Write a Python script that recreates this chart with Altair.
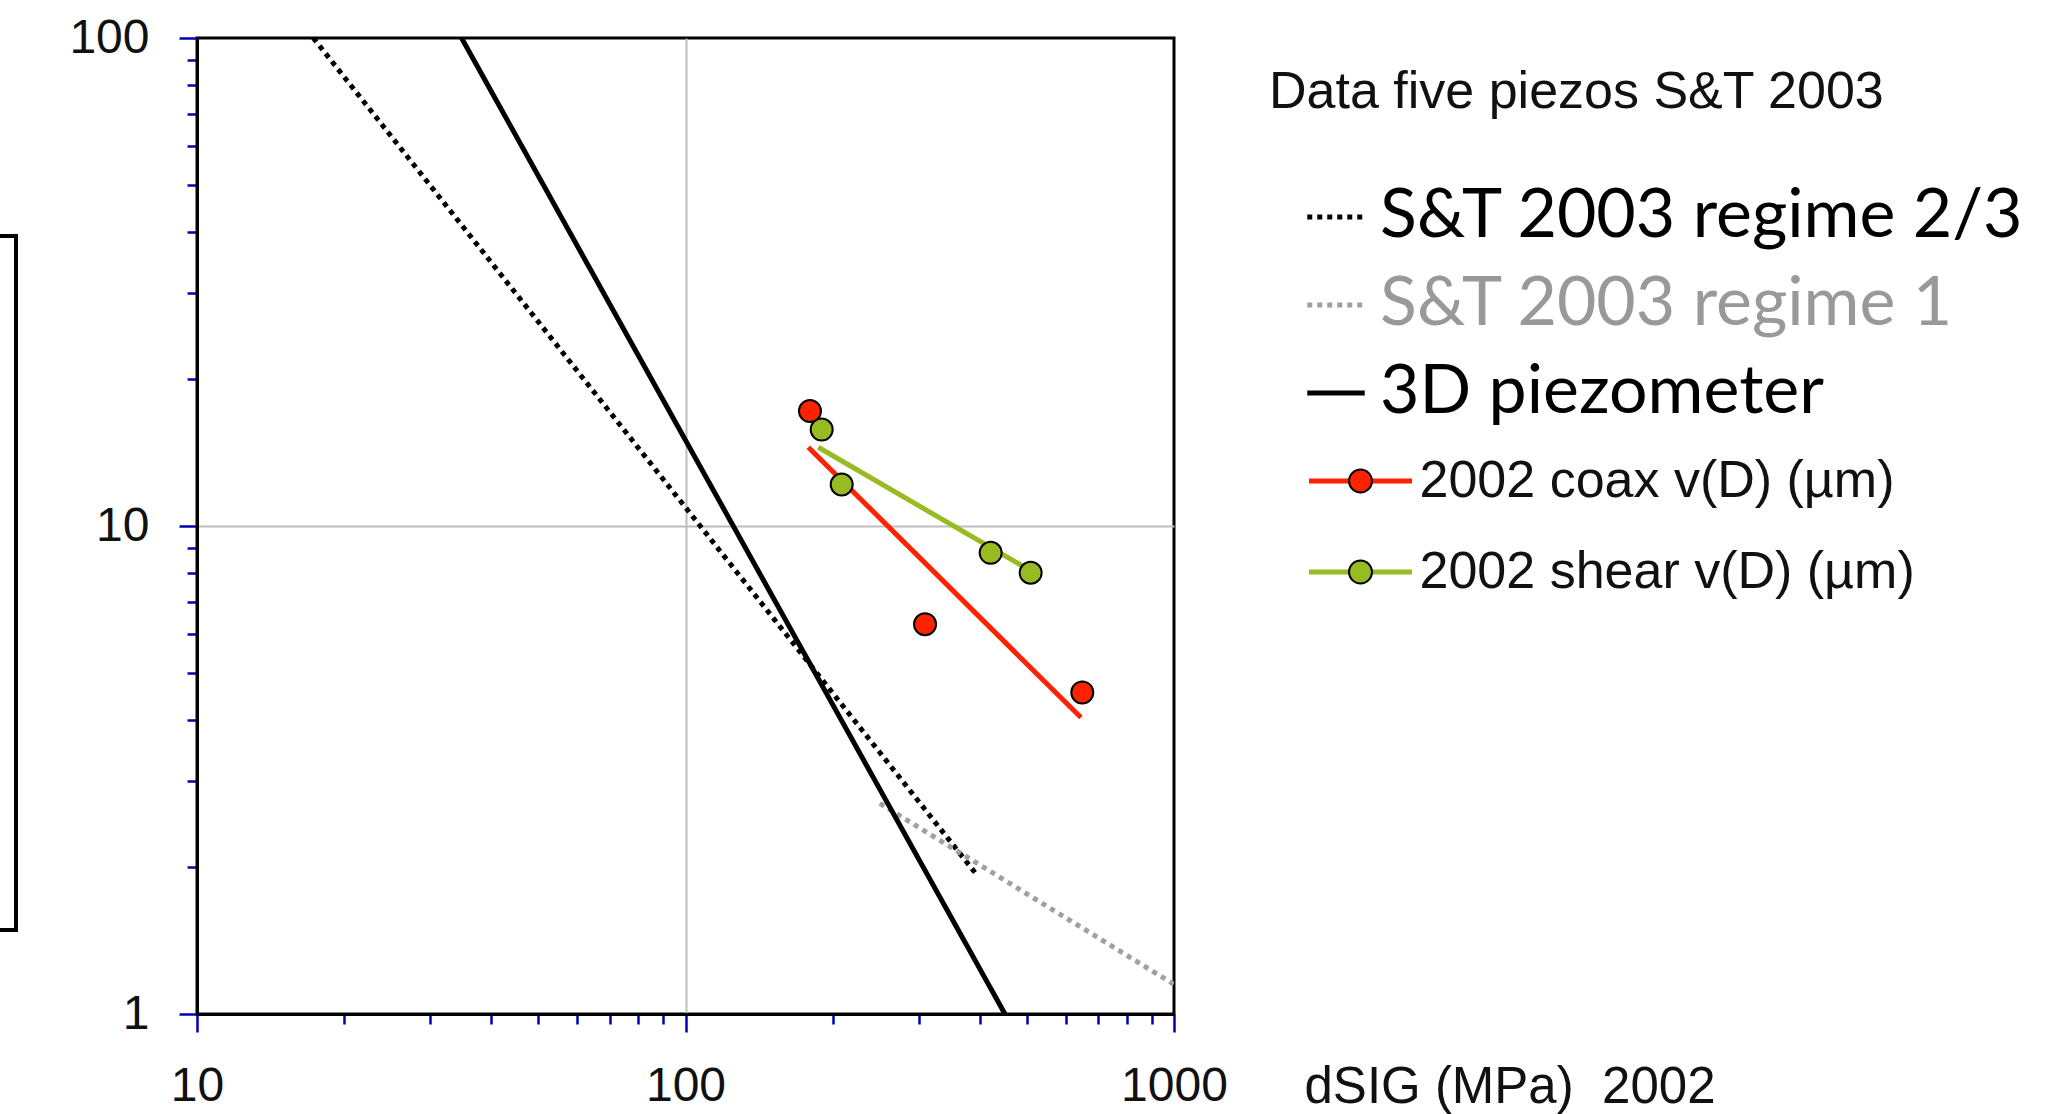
import altair as alt
import pandas as pd

# ---- reference piezometer curves (power laws: straight segments in log-log) ----
ref_curve = ["S&T 2003 regime 2/3", "S&T 2003 regime 2/3",
             "S&T 2003 regime 1", "S&T 2003 regime 1",
             "3D piezometer", "3D piezometer"]
ref_dsig = [17.3, 394.5, 250.0, 1000.0, 34.8, 450.8]
ref_d = [100.0, 1.93, 2.70, 1.15, 100.0, 1.0]

# ---- 2002 regression lines ----
fit_series = ["2002 coax v(D) (µm)", "2002 coax v(D) (µm)",
              "2002 shear v(D) (µm)", "2002 shear v(D) (µm)"]
fit_dsig = [178.4, 645.0, 187.0, 503.0]
fit_d = [14.5, 4.05, 14.5, 8.15]

# ---- 2002 measurements ----
pt_series = ["2002 coax v(D) (µm)"] * 3 + ["2002 shear v(D) (µm)"] * 4
pt_dsig = [179.8, 309.3, 649.0, 190.0, 208.8, 421.4, 508.8]
pt_d = [17.2, 6.29, 4.56, 15.76, 12.16, 8.81, 8.02]

curve_order = ["S&T 2003 regime 2/3", "S&T 2003 regime 1", "3D piezometer"]
curve_colors = ["#000000", "#A0A0A0", "#000000"]
curve_dashes = [[5, 5], [5, 5], [1, 0]]
series_colors = ["#FF2200", "#99BB22"]

x_ticks = [10, 20, 30, 40, 50, 60, 70, 80, 90,
           100, 200, 300, 400, 500, 600, 700, 800, 900, 1000]
y_ticks = [1, 2, 3, 4, 5, 6, 7, 8, 9,
           10, 20, 30, 40, 50, 60, 70, 80, 90, 100]

ref_df = pd.DataFrame({"curve": ref_curve, "dsig": ref_dsig, "d": ref_d})
fit_df = pd.DataFrame({"series": fit_series, "dsig": fit_dsig, "d": fit_d})
pt_df = pd.DataFrame({"series": pt_series, "dsig": pt_dsig, "d": pt_d})

major = "indexof([1, 10, 100, 1000], datum.value) >= 0"


def axis_style(grid_at):
    return dict(
        domainColor="#000000", domainWidth=3,
        tickColor="#0000B4", tickWidth=2.5,
        tickSize={"condition": {"test": major, "value": 18}, "value": 10},
        gridColor="#BDBDBD", gridWidth=2,
        gridOpacity={"condition": {"test": f"datum.value == {grid_at}", "value": 1}, "value": 0},
        labelFont="Liberation Sans", labelFontSize=48, labelColor="#111111",
        labelExpr=f"{major} ? format(datum.value, 'd') : ''",
        labelOverlap=False, labelFlush=False, labelPadding=30,
    )


x_enc = alt.X(
    "dsig:Q",
    scale=alt.Scale(type="log", domain=[10, 1000], nice=False),
    axis=alt.Axis(
        values=x_ticks,
        title="dSIG (MPa)\u00a0 2002", titleX=1107, titleY=88,
        titleAlign="left", titleBaseline="alphabetic", titleAngle=0,
        titleFont="Liberation Sans", titleFontSize=51, titleFontWeight="normal",
        titleColor="#111111",
        **axis_style(100),
    ),
)
y_enc = alt.Y(
    "d:Q",
    scale=alt.Scale(type="log", domain=[1, 100], nice=False),
    axis=alt.Axis(values=y_ticks, title=None, **axis_style(10)),
)

legend_curves = alt.Legend(
    title="Data five piezos S&T 2003", orient="none", legendX=1072, legendY=29,
    direction="vertical",
    titleFont="Liberation Sans", titleFontSize=52, titleFontWeight="normal",
    titleColor="#111111", titleLimit=1000, titlePadding=64,
    labelFont="Lato", labelFontSize=68, labelLimit=1000,
    labelColor=alt.ExprRef("datum.label == 'S&T 2003 regime 1' ? '#999999' : '#000000'"),
    symbolType="M-2.5,0L2.5,0", symbolSize=529, symbolStrokeWidth=5,
    symbolOffset=33, labelOffset=10, rowPadding=20,
)

legend_lines = alt.Legend(
    title=None, orient="none", legendX=1072, legendY=417, direction="vertical",
    labelFont="Liberation Sans", labelFontSize=52, labelLimit=1000,
    labelColor="#111111",
    symbolType="M-4.48,0L4.48,0", symbolSize=529, symbolStrokeWidth=5,
    symbolOffset=65.5, labelOffset=33, rowPadding=39,
)

legend_dots = alt.Legend(
    title=None, orient="none", legendX=1072, legendY=417, direction="vertical",
    labelFont="Liberation Sans", labelFontSize=52, labelLimit=1000,
    labelOpacity=0,
    symbolType="circle", symbolSize=529, symbolStrokeColor="#000000",
    symbolStrokeWidth=2, symbolOpacity=1,
    symbolOffset=65.5, labelOffset=33, rowPadding=39, zindex=2,
)

curves = alt.Chart(ref_df).mark_line(strokeWidth=5, clip=True).encode(
    x=x_enc, y=y_enc,
    stroke=alt.Stroke("curve:N", scale=alt.Scale(domain=curve_order, range=curve_colors),
                      legend=legend_curves),
    strokeDash=alt.StrokeDash("curve:N", scale=alt.Scale(domain=curve_order, range=curve_dashes),
                              legend=legend_curves),
)

fits = alt.Chart(fit_df).mark_line(strokeWidth=5, clip=True).encode(
    x=x_enc, y=y_enc,
    color=alt.Color("series:N", scale=alt.Scale(range=series_colors), legend=legend_lines),
)

dots = alt.Chart(pt_df).mark_circle(size=484, opacity=1, stroke="#000000", strokeWidth=2).encode(
    x=x_enc, y=y_enc,
    fill=alt.Fill("series:N", scale=alt.Scale(range=series_colors), legend=legend_dots),
)

# boxed panel at the left page edge
panel = alt.Chart(pd.DataFrame({"k": [0]})).mark_rect(
    fill="transparent", stroke="#000000", strokeWidth=4
).encode(x=alt.value(-240), x2=alt.value(-181), y=alt.value(198), y2=alt.value(892))

chart = alt.layer(curves, fits, dots, panel).properties(
    width=977, height=976,
    autosize=alt.AutoSizeParams(type="none"),
    padding={"left": 197, "top": 38, "right": 895, "bottom": 100},
    background="white",
).configure_view(stroke="#000000", strokeWidth=3)

chart.save("out.html", embed_options={"renderer": "svg", "actions": False})
